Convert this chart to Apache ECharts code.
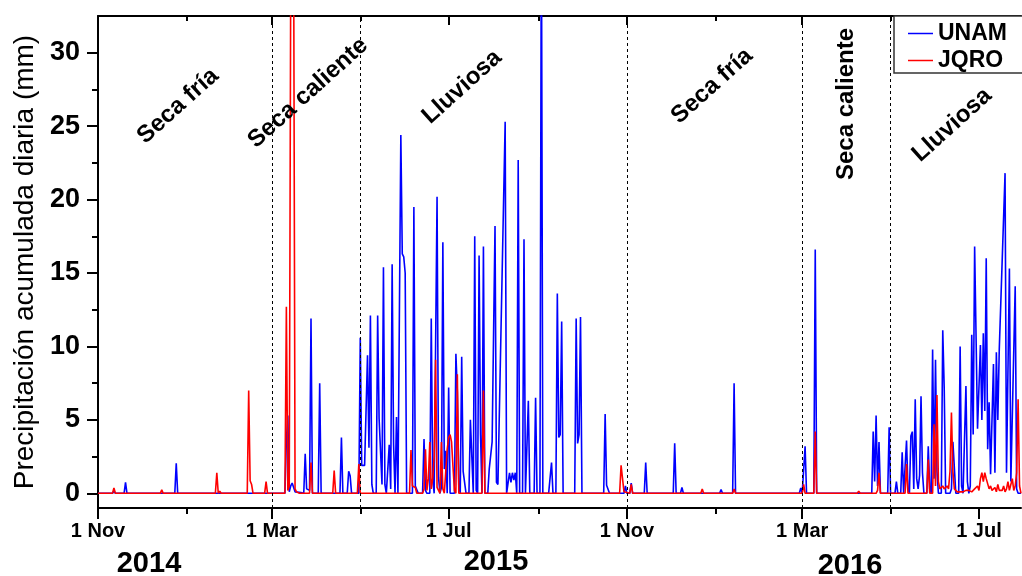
<!DOCTYPE html>
<html><head><meta charset="utf-8">
<script src="https://cdn.jsdelivr.net/npm/echarts@6/dist/echarts.min.js"></script>
<style>html,body{margin:0;padding:0;background:#fff}#c{width:1022px;height:576px}</style>
</head><body><div id="c"></div>
<script>
const startDate = '2014-11-01';
const endDate = '2016-07-30';
const majorTickDates = ['2014-11-01','2015-03-01','2015-07-01','2015-11-01','2016-03-01','2016-07-01'];
const majorTickLabels = ['1 Nov','1 Mar','1 Jul','1 Nov','1 Mar','1 Jul'];
const minorTickDates = ['2015-01-01','2015-05-01','2015-09-01','2016-01-01','2016-05-01'];
const seasonBoundaryDates = ['2015-03-01','2015-05-01','2015-11-01','2016-03-01','2016-05-01'];
const yTicks = [0,5,10,15,20,25,30];
const yMinorTicks = [2.5,7.5,12.5,17.5,22.5,27.5];
const seriesNames = ['UNAM','JQRO'];
const seasonLabels = ['Seca fría','Seca caliente','Lluviosa','Seca fría','Seca caliente','Lluviosa'];
const yearLabels = ['2014','2015','2016'];
const yAxisTitle = 'Precipitación acumulada diaria (mm)';

// daily accumulated precipitation: [days since startDate, mm]
const unamPoints = [
[0,0],[10,0],[11,0.15],[12,0],[18,0],[19,0.75],[20,0],[53,0],[54,2.05],[55,0],
[103,0],[104,0.12],[105,0],[129,0],[130,3.6],[131,5.3],[132,0.1],[133,0.5],[134,0.7],[135,0.65],[136,0.1],[140,0.05],[142,0],[143,2.7],[144,0.3],[145,0.3],[146,0.2],[147,11.9],[148,0],
[152,0],[153,7.5],[154,0],[167,0],[168,3.8],[169,0],[172,0],[173,1.5],[174,1.2],[175,0],
[180,0],[181,10.6],[182,1.9],[183,1.9],[184,1.9],[185,2.0],[186,9.4],[187,3.1],[188,12.1],[189,0.6],[190,0],[192,0],[193,12.1],[194,5.1],[195,5.0],[196,0.6],[197,15.4],[198,0.6],[199,0],[200,0],[201,3.3],[202,0.3],[203,15.6],[204,3.3],[205,0],[206,5.2],[207,0],[208,0],[209,24.4],[210,16.3],[211,16.1],[212,15.0],[213,0],
[217,0],[218,19.5],[219,0.5],[220,0.4],[221,0],[224,0],[225,3.7],[226,0.2],[227,0],[229,0],[230,11.9],[231,1.0],[232,0],[233,0],[234,20.2],[235,1.1],[236,0],[237,0.4],[238,17.1],[239,1.65],[240,2.9],[241,0],[242,7.2],[243,0],
[246,0],[247,9.5],[248,6.9],[249,0.5],[250,0],[251,9.3],[252,1.5],[253,1.6],[254,0],[256,0],[257,5.0],[258,5.0],[259,0],[260,17.5],[261,0.2],[262,0],[263,16.2],[264,4.0],[265,0],[266,16.8],[267,0],[269,0],[270,1.65],[271,1.6],[272,3.5],[274,18.2],[275,0.75],[276,0.6],[277,0.6],[281,25.3],[282,0],[283,0],[284,1.4],[285,0.75],[286,1.4],[287,0.9],[288,1.4],[289,0],[290,22.7],[291,0],[293,0],[294,17.3],[295,0],[296,0],[297,6.3],[298,0],[301,0],[302,6.5],[303,0],[305,0],[306,40],[307,0],
[311,0],[312,0.1],[313,2.1],[314,0],[316,0],[317,13.6],[318,3.8],[319,4.0],[320,11.7],[321,0],[329,0],[330,11.9],[331,3.4],[332,4.0],[333,12.0],[334,0],[349,0],[350,5.4],[351,0.55],[352,0.55],[353,0],[363,0],[364,0.5],[365,0],[367,0],[368,0.7],[369,0],[372,0],[373,0.1],[374,0],[377,0],[378,2.1],[379,0],[386,0],[387,0.1],[388,0],[397,0],[398,3.4],[399,0],[402,0],[403,0.4],[404,0],
[429,0],[430,0.25],[431,0],[438,0],[439,7.5],[440,0],[484,0],[485,0.36],[486,0],[487,0],[488,3.2],[489,0],[494,0],[495,16.6],[496,0],
[534,0],[535,4.2],[536,0.8],[537,5.3],[538,0.5],[539,3.5],[540,0],[545,0],[546,4.5],[547,0],[550,0],[551,0.8],[552,0],[554,0],[555,2.8],[556,0],[557,0],[558,3.6],[559,0.3],[560,0],[561,3.9],[562,4.2],[563,0.3],[564,6.4],[565,1.0],[566,0.3],[567,1.2],[568,6.6],[569,1.4],[570,0],[572,0],[573,3.2],[574,0.3],[575,0],[576,9.8],[577,1.0],[578,9.1],[579,1.5],[580,0],[582,0],[583,11.1],[584,7.2],[585,0],[588,0],[589,0.3],[590,3.5],[591,3.4],[592,0],[594,0],[595,10.0],[596,0.5],[597,0],[598,0],[599,7.3],[600,0.8],[601,0],[602,0.5],[603,10.8],[604,4.0],[605,16.8],[607,4.4],[609,10.1],[610,5.0],[611,10.9],[612,5.6],[613,16.0],[614,3.0],[615,6.2],[616,1.3],[618,8.8],[619,1.4],[620,9.6],[621,5.0],[622,9.8],[626,21.8],[627,1.4],[629,15.3],[630,0.8],[633,14.1],[634,0.3],[635,0],[637,0]
];
const jqroPoints = [
[0,0],[10,0],[11,0.36],[12,0],[43,0],[44,0.23],[45,0],[81,0],[82,1.4],[83,0],[84,0.15],[85,0],[103,0],[104,7.0],[105,0.85],[106,0.6],[107,0],[115,0],[116,0.8],[117,0],
[129,0],[130,12.7],[131,0.2],[132,0.5],[133,35],[134,50],[135,38],[136,0.3],[137,0.1],[138,0.15],[139,0],[140,0.1],[141,0],[146,0],[147,2.1],[148,0],[162,0],[163,1.55],[164,0],[179,0],[180,2.0],[181,0],
[215,0],[216,2.95],[217,0.5],[218,0.4],[219,0.4],[220,0],[224,0],[225,0.3],[226,3.0],[227,0.2],[228,1.0],[229,3.5],[230,0.3],[231,1.0],[232,2.5],[233,9.1],[234,0.4],[235,0.3],[236,0],[237,3.5],[238,0.3],[239,0],[240,1.5],[241,3.0],[242,3.8],[243,4.0],[244,3.5],[245,1.8],[246,0.2],[247,0],[248,8.1],[249,0],[265,0],[266,7.0],[267,0],
[360,0],[361,1.9],[362,1.8],[363,0.1],[364,0],[367,0],[368,0.6],[369,0],[416,0],[417,0.3],[418,0],[428,0],[429,0.1],[430,0],[438,0],[439,0.3],[440,0],
[486,0],[487,0.6],[488,0],[494,0],[495,4.2],[496,0],[524,0],[525,0.15],[526,0],[537,0],[538,0.2],[539,1.4],[540,0],[557,0],[558,2.0],[559,0],
[572,0],[573,2.3],[574,0],[576,0],[577,4.7],[578,0.5],[579,6.7],[580,0.8],[581,0.3],[582,0.2],[583,0.5],[584,0.3],[585,0.2],[586,0.5],[587,0.3],[588,1.5],[589,5.5],[590,1.5],[591,0.3],[592,0.2],[593,0.1],[594,0.2],[595,0.1],[596,0.2],[597,0.1],[598,0.1],[599,0.2],[600,0.1],[601,0.2],[602,0.3],[603,0.1],[604,0.1],[605,0.3],[606,0.2],[607,0.5],[608,0.2],[609,1.0],[610,1.4],[611,0.8],[612,1.4],[613,1.0],[614,1.1],[615,0.3],[616,0.5],[617,0.2],[618,0.3],[619,0.4],[620,0.1],[621,0.6],[622,0.2],[623,0.3],[624,0.2],[625,0.5],[626,0.1],[627,0.3],[628,0.8],[629,0.2],[630,0.3],[631,1.0],[632,0.2],[633,0.5],[634,1.4],[635,6.4],[636,0.5],[637,0]
];

const FONT = '"Liberation Sans", Arial, sans-serif';
const DAY = 86400000;
const t0 = Date.parse(startDate);
const tEnd = Date.parse(endDate);
const toT = d => t0 + d * DAY;
const majorT = majorTickDates.map(s => Date.parse(s));
const minorT = minorTickDates.map(s => Date.parse(s));

const baseX = {
  type: 'value', min: t0, max: tEnd, splitLine: { show: false }
};
const xAxes = [
  Object.assign({}, baseX, {
    position: 'bottom',
    axisLine: { show: true, onZero: false, lineStyle: { color: '#000', width: 2 } },
    axisTick: { show: true, inside: false, length: 11, customValues: majorT, lineStyle: { color: '#000', width: 2 } },
    axisLabel: { show: true, customValues: majorT, margin: 13, color: '#000', fontFamily: FONT, fontWeight: 'bold', fontSize: 20,
      formatter: v => { const i = majorT.indexOf(v); return i >= 0 ? majorTickLabels[i] : ''; } }
  }),
  Object.assign({}, baseX, {
    position: 'bottom',
    axisLine: { show: false, onZero: false },
    axisTick: { show: true, inside: false, length: 6, customValues: minorT, lineStyle: { color: '#000', width: 2 } },
    axisLabel: { show: false }
  }),
  Object.assign({}, baseX, {
    position: 'top',
    axisLine: { show: true, onZero: false, lineStyle: { color: '#000', width: 2 } },
    axisTick: { show: true, inside: true, length: 9, customValues: majorT, lineStyle: { color: '#000', width: 2 } },
    axisLabel: { show: false }
  }),
  Object.assign({}, baseX, {
    position: 'top',
    axisLine: { show: false, onZero: false },
    axisTick: { show: true, inside: true, length: 5, customValues: minorT, lineStyle: { color: '#000', width: 2 } },
    axisLabel: { show: false }
  })
];
const baseY = { type: 'value', min: -1, max: 32.5, splitLine: { show: false } };
const yAxes = [
  Object.assign({}, baseY, {
    position: 'left',
    name: yAxisTitle, nameLocation: 'middle', nameGap: 56,
    nameTextStyle: { fontFamily: FONT, fontSize: 28, color: '#000' },
    axisLine: { show: true, onZero: false, lineStyle: { color: '#000', width: 2 } },
    axisTick: { show: true, inside: false, length: 11, customValues: yTicks, lineStyle: { color: '#000', width: 2 } },
    axisLabel: { show: true, customValues: yTicks, margin: 18, color: '#000', fontFamily: FONT, fontWeight: 'bold', fontSize: 27 }
  }),
  Object.assign({}, baseY, {
    position: 'left',
    axisLine: { show: false, onZero: false },
    axisTick: { show: true, inside: false, length: 6, customValues: yMinorTicks, lineStyle: { color: '#000', width: 2 } },
    axisLabel: { show: false }
  })
];

const seasonPos = [
  { x: 178, y: 106, r: 42 }, { x: 308, y: 93, r: 42 }, { x: 462, y: 87, r: 42 },
  { x: 712, y: 86, r: 42 }, { x: 846, y: 104, r: 90 }, { x: 952, y: 125, r: 42 }
];
const yearPos = [{ x: 149, y: 564 }, { x: 496, y: 562 }, { x: 850, y: 566 }];
const graphics = [];
seasonLabels.forEach((s, i) => graphics.push({
  type: 'text', x: seasonPos[i].x, y: seasonPos[i].y, rotation: seasonPos[i].r * Math.PI / 180, z: 50,
  style: { text: s, font: 'bold 24px ' + FONT, fill: '#000', align: 'center', verticalAlign: 'middle' }
}));
yearLabels.forEach((s, i) => graphics.push({
  type: 'text', x: yearPos[i].x, y: yearPos[i].y, z: 50,
  style: { text: s, font: 'bold 29px ' + FONT, fill: '#000', align: 'center', verticalAlign: 'middle' }
}));

const chart = echarts.init(document.getElementById('c'), null, { renderer: 'canvas' });
chart.setOption({
  animation: false,
  backgroundColor: '#fff',
  grid: { left: 98, right: 1, top: 16, bottom: 68, containLabel: false },
  xAxis: xAxes,
  yAxis: yAxes,
  legend: {
    orient: 'vertical', left: 894, top: 16, icon: 'rect', itemWidth: 25, itemHeight: 1.5, itemGap: 4,
    padding: [6, 20, 1, 14], borderColor: '#333', borderWidth: 1.5, backgroundColor: '#fff',
    textStyle: { fontFamily: FONT, fontWeight: 'bold', fontSize: 23, color: '#000' },
    data: seriesNames
  },
  graphic: graphics,
  series: [
    {
      name: seriesNames[0], type: 'line', xAxisIndex: 0, yAxisIndex: 0, symbol: 'none', showSymbol: false,
      color: '#0000FF', lineStyle: { color: '#0000FF', width: 1.6 }, clip: true, z: 2,
      data: unamPoints.map(p => [toT(p[0]), p[1]]),
      markLine: {
        silent: true, symbol: ['none', 'none'], label: { show: false },
        lineStyle: { color: '#000', width: 1, type: [3, 3] },
        data: seasonBoundaryDates.map(s => ({ xAxis: Date.parse(s) }))
      }
    },
    {
      name: seriesNames[1], type: 'line', xAxisIndex: 0, yAxisIndex: 0, symbol: 'none', showSymbol: false,
      color: '#FF0000', lineStyle: { color: '#FF0000', width: 1.6 }, clip: true, z: 3,
      data: jqroPoints.map(p => [toT(p[0]), p[1]])
    }
  ]
});
</script></body></html>
